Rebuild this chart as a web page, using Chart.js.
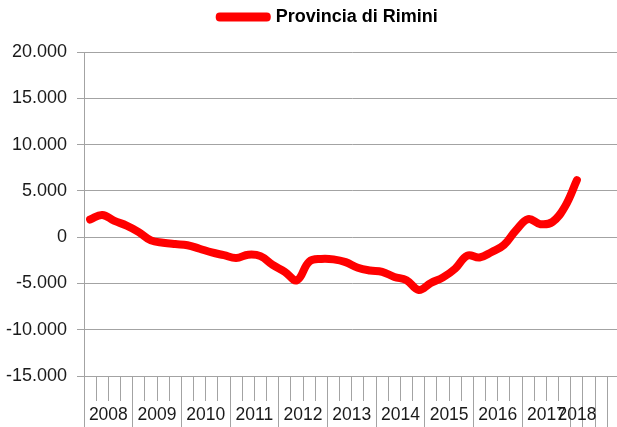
<!DOCTYPE html>
<html><head><meta charset="utf-8">
<script src="https://cdn.jsdelivr.net/npm/chart.js@4.4.1/dist/chart.umd.min.js"></script>
<style>
html,body{margin:0;padding:0;overflow:hidden;background:#fff;width:617px;height:427px;}
#wrap{position:absolute;left:0;top:0;width:656px;height:427px;}
</style></head><body>
<div id="wrap"><canvas id="c" width="656" height="427"></canvas></div>
<script>
const seriesName = 'Provincia di Rimini';
// quarterly categories (last three are empty slots on the axis)
const categories = [
  'T1 2008','T2 2008','T3 2008','T4 2008',
  'T1 2009','T2 2009','T3 2009','T4 2009',
  'T1 2010','T2 2010','T3 2010','T4 2010',
  'T1 2011','T2 2011','T3 2011','T4 2011',
  'T1 2012','T2 2012','T3 2012','T4 2012',
  'T1 2013','T2 2013','T3 2013','T4 2013',
  'T1 2014','T2 2014','T3 2014','T4 2014',
  'T1 2015','T2 2015','T3 2015','T4 2015',
  'T1 2016','T2 2016','T3 2016','T4 2016',
  'T1 2017','T2 2017','T3 2017','T4 2017',
  'T1 2018','','',''
];
const values = [
  1900, 2400, 1750, 1250,
  550, -350, -600, -750,
  -870, -1250, -1650, -1950,
  -2250, -1900, -2050, -3000,
  -3750, -4650, -2650, -2350,
  -2400, -2700, -3300, -3600,
  -3750, -4300, -4650, -5700,
  -4950, -4350, -3400, -2000,
  -2200, -1600, -850, 750,
  1950, 1400, 1650, 3250,
  6150
];
const yMin = -15000, yMax = 20000, yStep = 5000;

// derive year groups from the categories
const groups = [];
categories.forEach((c, i) => {
  const yr = c ? c.slice(-4) : '';
  const last = groups[groups.length - 1];
  if (yr && last && last.year === yr) last.end = i;
  else groups.push({year: yr, start: i, end: i});
});
const boundaries = [-0.5].concat(groups.map(g => g.end + 0.5));
const yearLabelTicks = groups.filter(g => g.year).map(g => ({value: (g.start + g.end) / 2, label: g.year}));

function fmtIt(v) {
  const s = Math.abs(v).toString().replace(/\B(?=(\d{3})+(?!\d))/g, '.');
  return (v < 0 ? '-' : '') + s;
}

Chart.defaults.font.family = "'Liberation Sans', Arial, sans-serif";
const GRID = '#a3a3a3';
const nCat = categories.length;
const LEGEND_SHIFT = 19;

new Chart(document.getElementById('c'), {
  type: 'line',
  data: {
    labels: categories,
    datasets: [{
      label: seriesName,
      data: values,
      borderColor: '#ff0000',
      backgroundColor: '#ff0000',
      borderWidth: 8,
      borderCapStyle: 'round',
      borderJoinStyle: 'round',
      tension: 0.4,
      pointRadius: 0,
      fill: false,
      xAxisID: 'x'
    }]
  },
  options: {
    responsive: false,
    animation: false,
    devicePixelRatio: 1,
    layout: {padding: {left: 0, right: 36.5, top: 0, bottom: 0}},
    plugins: {
      tooltip: {enabled: false},
      legend: {
        position: 'top',
        labels: {
          boxWidth: 47,
          boxHeight: 1,
          color: '#000',
          padding: 8,
          font: {size: 18, weight: 'bold'}
        }
      }
    },
    scales: {
      x: {
        type: 'category',
        offset: true,
        weight: 0,
        grid: {offset: true, drawOnChartArea: false, tickLength: 25, color: GRID, tickColor: GRID},
        border: {display: true, color: GRID},
        ticks: {display: false},
        afterFit: s => { s.height = 0; }
      },
      xb: {
        type: 'linear',
        position: 'bottom',
        min: -0.5, max: nCat - 0.5,
        weight: 1,
        grid: {drawOnChartArea: false, tickLength: 51, color: GRID, tickColor: GRID},
        border: {display: false},
        ticks: {display: false},
        afterBuildTicks: s => { s.ticks = boundaries.map(v => ({value: v})); },
        afterFit: s => { s.height = 0; }
      },
      xl: {
        type: 'linear',
        position: 'bottom',
        min: -0.5, max: nCat - 0.5,
        weight: 10,
        grid: {display: false, drawTicks: false},
        border: {display: false},
        ticks: {
          autoSkip: false, maxRotation: 0, minRotation: 0,
          padding: 29,
          color: '#1a1a1a',
          font: {size: 17.5},
          callback: (v, i) => yearLabelTicks[i] ? yearLabelTicks[i].label : ''
        },
        afterBuildTicks: s => { s.ticks = yearLabelTicks.map(t => ({value: t.value})); },
        afterFit: s => { s.height = 51; }
      },
      y: {
        type: 'linear',
        min: yMin, max: yMax,
        grid: {color: GRID, tickLength: 7, tickColor: GRID},
        border: {display: true, color: GRID},
        ticks: {
          stepSize: yStep,
          padding: 10,
          color: '#1a1a1a',
          font: {size: 18},
          callback: v => fmtIt(v)
        },
        afterFit: s => { s.width = 84; }
      }
    }
  },
  plugins: [{
    id: 'legendGap',
    beforeInit(chart) {
      const orig = chart.legend.fit;
      chart.legend.fit = function () { orig.call(this); this.height += 16; };
    },
    afterLayout(chart) {
      chart.legend.left += LEGEND_SHIFT;
      chart.legend.right += LEGEND_SHIFT;
    }
  }]
});
</script>
</body></html>
